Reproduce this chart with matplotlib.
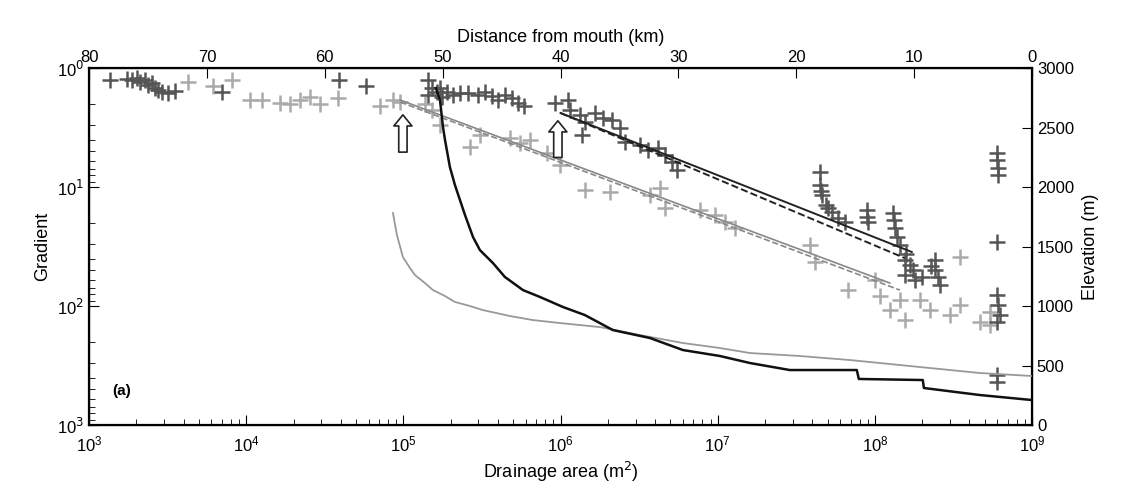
import numpy as np
import matplotlib.pyplot as plt

plt.rcParams['font.family'] = ['Liberation Sans', 'DejaVu Sans']

# data as log10(drainage area), log10(gradient)
dark_logA = [3.134, 3.242, 3.274, 3.305, 3.324, 3.356, 3.375, 3.401, 3.420, 3.439,
             3.464, 3.503, 3.547, 3.846, 4.590, 4.762,
             5.157, 5.182, 5.214, 5.246, 5.277, 5.316, 5.360, 5.411, 5.475, 5.519,
             5.564, 5.602, 5.646, 5.691, 5.729, 5.767, 5.157, 5.233,
             5.964, 6.047, 6.060, 6.123, 6.155, 6.219, 6.270, 6.327, 6.378, 6.410,
             6.505, 6.556, 6.620, 6.664, 6.709, 6.740, 6.136,
             7.650, 7.650, 7.663, 7.688, 7.727, 7.765, 7.809, 7.949, 7.955, 8.115,
             8.127, 8.159, 8.191, 8.191, 8.223, 8.254, 8.382, 8.382, 8.413,
             7.655, 7.700, 7.950, 8.120, 8.140, 8.200, 8.240, 8.300, 8.360, 8.400,
             8.776, 8.776, 8.782, 8.782, 8.776, 8.776, 8.782, 8.795, 8.776, 8.776, 8.776]
dark_logG = [0.101, 0.092, 0.101, 0.084, 0.118, 0.101, 0.143, 0.126, 0.168, 0.185,
             0.202, 0.210, 0.193, 0.202, 0.101, 0.151,
             0.101, 0.168, 0.202, 0.244, 0.202, 0.227, 0.210, 0.210, 0.227, 0.202,
             0.235, 0.269, 0.227, 0.252, 0.294, 0.319, 0.227, 0.168,
             0.294, 0.269, 0.353, 0.395, 0.454, 0.378, 0.420, 0.437, 0.504, 0.622,
             0.647, 0.689, 0.672, 0.731, 0.790, 0.857, 0.563,
             0.874, 0.983, 1.067, 1.151, 1.210, 1.261, 1.294, 1.193, 1.294, 1.218,
             1.345, 1.487, 1.613, 1.739, 1.655, 1.782, 1.613, 1.697, 1.824,
             1.030, 1.180, 1.250, 1.280, 1.420, 1.560, 1.700, 1.760, 1.660, 1.760,
             0.714, 0.773, 0.840, 0.899, 1.462, 1.908, 1.992, 2.076, 2.134, 2.580, 2.639]

light_logA = [3.630, 3.789, 3.910, 4.024, 4.101, 4.215, 4.279, 4.342, 4.406, 4.469,
              4.584, 4.851, 4.934, 4.978, 5.137, 5.182, 5.233, 5.424, 5.487, 5.678,
              5.742, 5.805, 5.913, 5.996, 6.155, 6.314, 6.569, 6.632, 6.664, 6.887,
              6.982, 7.046, 7.109, 7.587, 7.618, 7.828, 8.095, 8.191, 8.350, 8.477,
              8.541, 8.668, 8.732, 8.541, 8.286, 8.159, 8.032, 8.000, 8.732]
light_logG = [0.118, 0.151, 0.101, 0.269, 0.269, 0.294, 0.303, 0.269, 0.244, 0.303,
              0.252, 0.319, 0.269, 0.286, 0.303, 0.353, 0.479, 0.664, 0.563, 0.588,
              0.630, 0.605, 0.714, 0.815, 1.025, 1.042, 1.067, 1.008, 1.176, 1.193,
              1.235, 1.294, 1.345, 1.487, 1.630, 1.866, 2.034, 2.118, 2.034, 2.076,
              1.992, 2.134, 2.050, 1.588, 1.950, 1.950, 1.916, 1.782, 2.160]

# regression lines (log10 area, log10 gradient) at the two ends
dark_fit_logA = [6.0, 8.235]
dark_fit_logG = [0.378, 1.546]
dark_dash_logA = [6.0, 8.19]
dark_dash_logG = [0.378, 1.597]
light_fit_logA = [4.98, 8.095]
light_fit_logG = [0.269, 1.807]
light_dash_logA = [4.98, 8.159]
light_dash_logG = [0.286, 1.866]

# elevation profiles
black_logA = [5.207, 5.233, 5.252, 5.265, 5.296, 5.328, 5.360, 5.392, 5.443, 5.487,
              5.570, 5.646, 5.761, 5.869, 6.015, 6.155, 6.333, 6.569, 6.779, 7.014,
              7.205, 7.459, 7.885, 7.898, 8.305, 8.312, 8.668, 8.999]
black_elev = [2832, 2731, 2504, 2395, 2168, 2017, 1891, 1765, 1580, 1470,
              1361, 1244, 1134, 1076, 992, 924, 798, 731, 630, 580,
              521, 462, 462, 387, 378, 311, 252, 210]
gray_logA = [4.934, 4.947, 4.959, 4.997, 5.042, 5.074, 5.137, 5.188, 5.265, 5.328,
             5.424, 5.506, 5.678, 5.824, 5.996, 6.251, 6.505, 6.779, 7.014, 7.205,
             7.523, 7.841, 8.032, 8.350, 8.668, 8.999]
gray_elev = [1781, 1681, 1597, 1412, 1319, 1260, 1193, 1134, 1084, 1034,
             1000, 966, 916, 882, 857, 823, 756, 689, 647, 605,
             580, 546, 521, 479, 437, 412]

# knickpoint arrows: x, tip, tail (log10 gradient)
arrow_logA = [4.997, 5.983]
arrow_tip = [0.37, 0.42]
arrow_tail = [0.73, 0.775]

fig = plt.figure(figsize=(11.3, 4.93), dpi=100)
ax = fig.add_axes([0.0788, 0.1379, 0.8345, 0.7241])

ax.plot(10**np.array(light_logA), 10**np.array(light_logG), '+', color='#aaaaaa',
        ms=11, mew=1.8, zorder=2)
ax.plot(10**np.array(dark_logA), 10**np.array(dark_logG), '+', color='#555555',
        ms=11, mew=1.8, zorder=3)

ax.plot(10**np.array(light_fit_logA), 10**np.array(light_fit_logG), '-', color='#888888', lw=1.2, zorder=4)
ax.plot(10**np.array(light_dash_logA), 10**np.array(light_dash_logG), '--', color='#888888', lw=1.2, zorder=4)
ax.plot(10**np.array(dark_fit_logA), 10**np.array(dark_fit_logG), '-', color='#222222', lw=1.4, zorder=4)
ax.plot(10**np.array(dark_dash_logA), 10**np.array(dark_dash_logG), '--', color='#222222', lw=1.4, zorder=4)

for xa, tip, tail in zip(arrow_logA, arrow_tip, arrow_tail):
    ax.annotate('', xy=(10**xa, 10**tip), xytext=(10**xa, 10**tail),
                arrowprops=dict(arrowstyle='simple,head_length=0.8,head_width=1.3,tail_width=0.6',
                                fc='white', ec='#222222', lw=1.2), zorder=5)

ax.set_xscale('log')
ax.set_yscale('log')
ax.set_xlim(1e3, 1e9)
ax.set_ylim(1e3, 1)
ax.set_xticks([10**k for k in range(3, 10)])
ax.set_yticks([1, 10, 100, 1000])
ax.set_yticklabels(['10$^0$', '10$^1$', '10$^2$', '10$^3$'])
ax.tick_params(which='both', direction='in', labelsize=12)
ax.tick_params(which='major', length=7)
ax.tick_params(which='minor', length=4)
ax.tick_params(axis='x', pad=7)
ax.set_xlabel('Drainage area (m$^2$)', fontsize=13)
ax.set_ylabel('Gradient', fontsize=13, labelpad=4)
ax.text(0.025, 0.085, '(a)', transform=ax.transAxes, fontsize=11, fontweight='bold')
for s in ax.spines.values():
    s.set_linewidth(1.6)

axr = ax.twinx()
axr.plot(10**np.array(gray_logA), gray_elev, '-', color='#999999', lw=1.3)
axr.plot(10**np.array(black_logA), black_elev, '-', color='#111111', lw=1.8)
axr.set_ylim(0, 3000)
axr.set_yticks(range(0, 3001, 500))
axr.tick_params(direction='in', length=7, labelsize=12)
axr.set_ylabel('Elevation (m)', fontsize=13, labelpad=6)

axt = ax.twiny()
axt.set_xlim(80, 0)
axt.set_xticks(range(80, -1, -10))
axt.tick_params(direction='in', length=7, labelsize=12, pad=2)
axt.set_xlabel('Distance from mouth (km)', fontsize=13, labelpad=6)

fig.savefig('out.png', dpi=100)
